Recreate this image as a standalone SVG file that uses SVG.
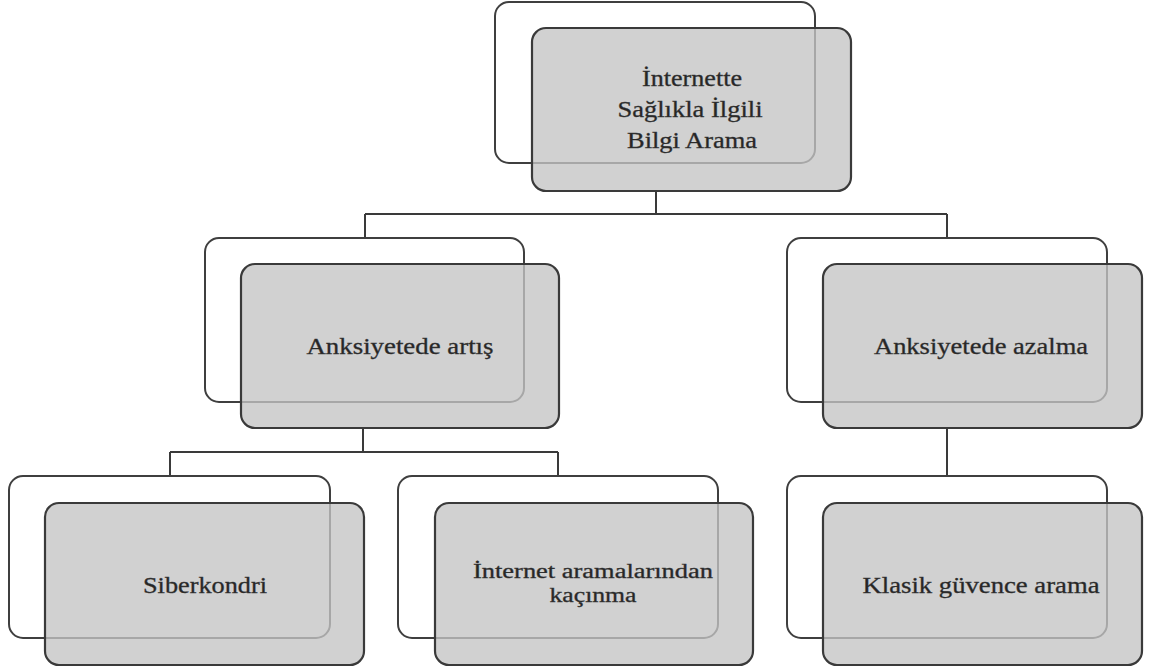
<svg xmlns="http://www.w3.org/2000/svg" width="1156" height="672" viewBox="0 0 1156 672">
<style>
.conn{fill:none;stroke:#3a3a3a;stroke-width:2}
.back{fill:#ffffff;stroke:#3f3f3f;stroke-width:2}
.front{fill:#c4c4c4;fill-opacity:0.78;stroke:#3a3a3a;stroke-width:2.2}
.lbl{font-family:'Liberation Serif','DejaVu Serif',serif;font-size:23px;fill:#262626;stroke:#3a3a3a;stroke-width:0.35;text-anchor:middle}
.sm{font-size:20px}
</style>
<rect width="1156" height="672" fill="#ffffff"/>
<g id="connectors">
<path class="conn" d="M656 191 V214 M365 214 H947 M365 214 V238 M947 214 V238"/>
<path class="conn" d="M363 428 V452 M170 452 H558 M170 452 V476 M558 452 V476"/>
<path class="conn" d="M947 428 V476"/>
</g>
<g id="node-root">
<rect class="back" x="495" y="2" width="320" height="161" rx="14"/>
<rect class="front" x="532" y="28" width="319" height="163" rx="14"/>
<text class="lbl" x="692" y="86" textLength="100" lengthAdjust="spacingAndGlyphs">İnternette</text>
<text class="lbl" x="690" y="117" textLength="145" lengthAdjust="spacingAndGlyphs">Sağlıkla  İlgili</text>
<text class="lbl" x="692" y="148" textLength="130" lengthAdjust="spacingAndGlyphs">Bilgi Arama</text>
</g>
<g id="node-artis">
<rect class="back" x="205" y="238" width="319" height="164" rx="14"/>
<rect class="front" x="241" y="264" width="318" height="164" rx="14"/>
<text class="lbl" x="400" y="354" textLength="187" lengthAdjust="spacingAndGlyphs">Anksiyetede  artış</text>
</g>
<g id="node-azalma">
<rect class="back" x="787" y="238" width="320" height="164" rx="14"/>
<rect class="front" x="823" y="264" width="319" height="164" rx="14"/>
<text class="lbl" x="981" y="354" textLength="214" lengthAdjust="spacingAndGlyphs">Anksiyetede  azalma</text>
</g>
<g id="node-siberkondri">
<rect class="back" x="9" y="476" width="321" height="162" rx="14"/>
<rect class="front" x="45" y="503" width="319" height="162" rx="14"/>
<text class="lbl" x="205" y="593" textLength="124" lengthAdjust="spacingAndGlyphs">Siberkondri</text>
</g>
<g id="node-kacinma">
<rect class="back" x="398" y="476" width="320" height="162" rx="14"/>
<rect class="front" x="435" y="503" width="318" height="162" rx="14"/>
<text class="lbl sm" x="593" y="578" textLength="240" lengthAdjust="spacingAndGlyphs">İnternet aramalarından</text>
<text class="lbl sm" x="593" y="602" textLength="87" lengthAdjust="spacingAndGlyphs">kaçınma</text>
</g>
<g id="node-guvence">
<rect class="back" x="787" y="476" width="320" height="162" rx="14"/>
<rect class="front" x="823" y="503" width="319" height="162" rx="14"/>
<text class="lbl" x="981" y="593" textLength="237" lengthAdjust="spacingAndGlyphs">Klasik  güvence  arama</text>
</g>
</svg>
